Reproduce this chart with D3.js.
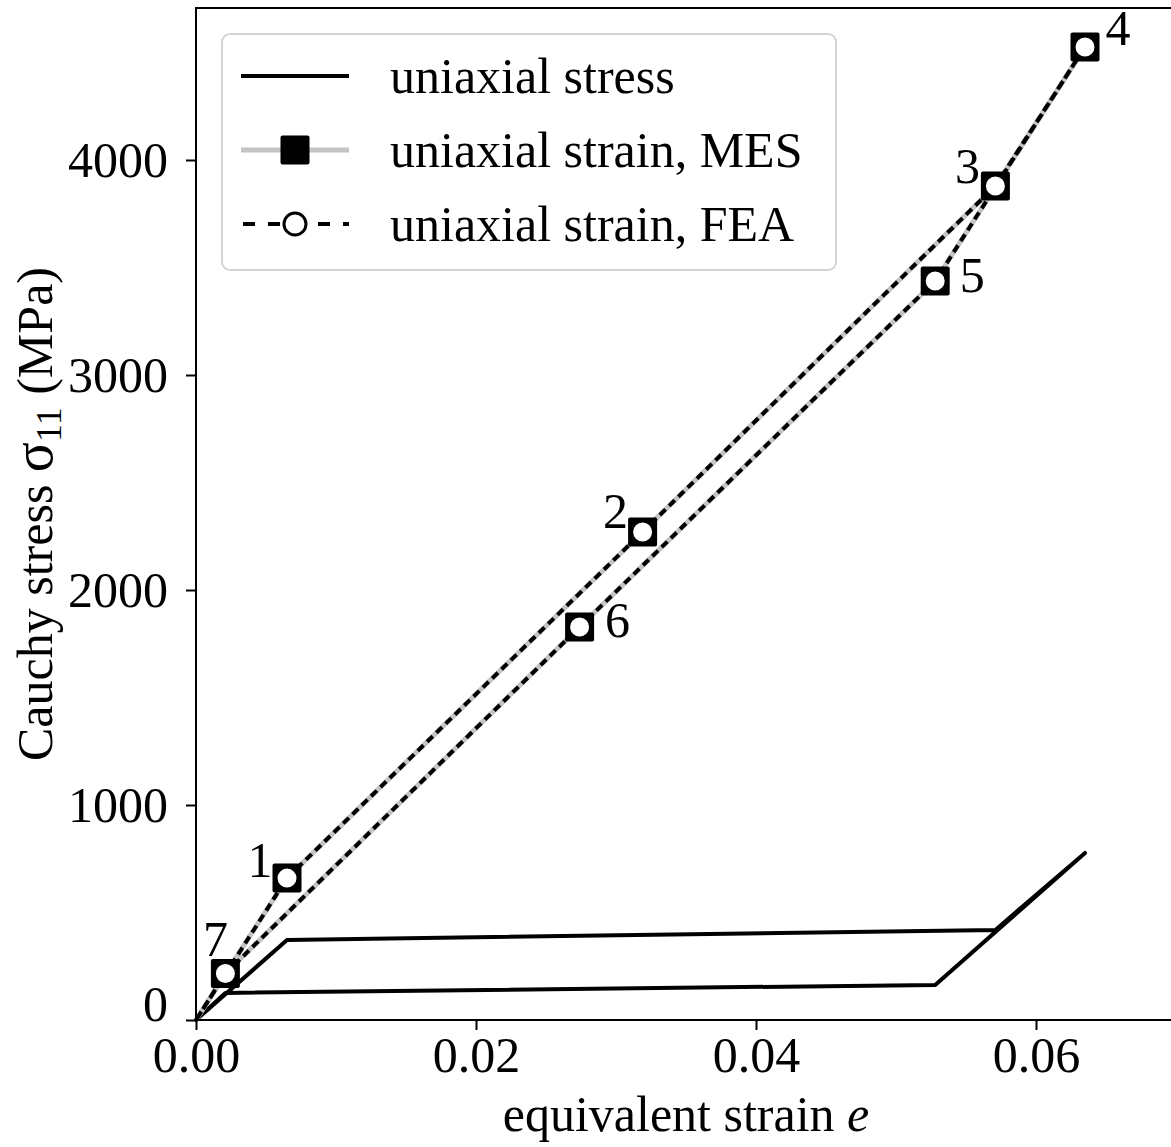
<!DOCTYPE html>
<html>
<head>
<meta charset="utf-8">
<script src="https://cdn.jsdelivr.net/npm/d3@7"></script>
<style>
	body { margin: 0; background: #fff; }
	text { font-family: "Liberation Serif", "Times New Roman", serif; fill: #000; }
</style>
</head>
<body>
<div id="chart"></div>
<script>
//numbered load points (same points for MES and FEA)
var pointLabels = ["1", "2", "3", "4", "5", "6", "7"];
var pointStrain = [0.0065, 0.0319, 0.0571, 0.0635, 0.0528, 0.0274, 0.0021];
var mesPointStress = [660, 2270, 3879, 4526, 3437, 1828, 216];
var feaPointStress = [660, 2270, 3879, 4526, 3437, 1828, 216];

//uniaxial strain loading path
var strainPathStrain = [0, 0.0065, 0.0319, 0.0480, 0.0535, 0.0571, 0.0635, 0.0528, 0.0274, 0.0021, 0];
var mesPathStress = [0, 660, 2270, 3300, 3650, 3879, 4526, 3437, 1828, 216, 0];
var feaPathStress = [0, 660, 2270, 3300, 3650, 3879, 4526, 3437, 1828, 216, 0];

//uniaxial stress path
var stressPathStrain = [0, 0.0065, 0.0571, 0.0635, 0.0528, 0.0021, 0];
var stressPathStress = [0, 372, 419, 777, 163, 126, 0];

//ticks
var xTicks = [0, 0.02, 0.04, 0.06];
var yTicks = [0, 1000, 2000, 3000, 4000];

//legend entries
var legendLabels = ["uniaxial stress", "uniaxial strain, MES", "uniaxial strain, FEA"];

function zip(xs, ys) {
	return xs.map(function(v, i) { return [v, ys[i]]; });
}

function drawChart() {
	var width = 1171;
	var height = 1147;
	var margin = { left: 196, top: 8, right: -5, bottom: 127 };

	var svg = d3.select("#chart").append("svg")
		.attr("width", width)
		.attr("height", height);

	var x = d3.scaleLinear().domain([0, 0.07]).range([margin.left, width - margin.right]);
	var y = d3.scaleLinear().domain([0, 4707]).range([height - margin.bottom, margin.top]);

	var line = d3.line()
		.x(function(d) { return x(d[0]); })
		.y(function(d) { return y(d[1]); });

	//uniaxial stress
	svg.append("path")
		.datum(zip(stressPathStrain, stressPathStress))
		.attr("d", line)
		.attr("fill", "none")
		.attr("stroke", "#000")
		.attr("stroke-width", 4)
		.attr("stroke-linejoin", "round")
		.attr("stroke-linecap", "round");

	//MES: gray line + black squares
	svg.append("path")
		.datum(zip(strainPathStrain, mesPathStress))
		.attr("d", line)
		.attr("fill", "none")
		.attr("stroke", "#c4c4c4")
		.attr("stroke-width", 5);

	var sq = 29;
	svg.selectAll(".mes").data(zip(pointStrain, mesPointStress)).enter()
		.append("rect")
		.attr("x", function(d) { return x(d[0]) - sq / 2; })
		.attr("y", function(d) { return y(d[1]) - sq / 2; })
		.attr("width", sq)
		.attr("height", sq)
		.attr("rx", 2)
		.attr("fill", "#000");

	//FEA: dashed line + open circles
	svg.append("path")
		.datum(zip(strainPathStrain, feaPathStress))
		.attr("d", line)
		.attr("fill", "none")
		.attr("stroke", "#000")
		.attr("stroke-width", 4)
		.attr("stroke-dasharray", "8,5");

	svg.selectAll(".fea").data(zip(pointStrain, feaPointStress)).enter()
		.append("circle")
		.attr("cx", function(d) { return x(d[0]); })
		.attr("cy", function(d) { return y(d[1]); })
		.attr("r", 11)
		.attr("fill", "#fff")
		.attr("stroke", "#000")
		.attr("stroke-width", 3);

	//point numbers, offset from the marker
	var labelOffset = [[-27, -1], [-27, -4], [-28, -3], [33, -2], [37, 11], [38, 10], [-10, -18]];
	svg.selectAll(".num").data(pointLabels).enter()
		.append("text")
		.attr("x", function(d, i) { return x(pointStrain[i]) + labelOffset[i][0]; })
		.attr("y", function(d, i) { return y(mesPointStress[i]) + labelOffset[i][1]; })
		.attr("text-anchor", "middle")
		.attr("font-size", 50)
		.text(function(d) { return d; });

	//axes
	var xAxis = svg.append("g")
		.attr("transform", "translate(0," + y(0) + ")")
		.call(d3.axisBottom(x).tickValues(xTicks).tickFormat(d3.format(".2f")).tickSize(10).tickPadding(6));
	var yAxis = svg.append("g")
		.attr("transform", "translate(" + x(0) + ",0)")
		.call(d3.axisLeft(y).tickValues(yTicks).tickFormat(d3.format("d")).tickSize(10).tickPadding(18));

	[xAxis, yAxis].forEach(function(g) {
		g.select(".domain").remove();
		g.selectAll("line").attr("stroke", "#000").attr("stroke-width", 2);
		g.selectAll("text").attr("font-size", 50).attr("fill", "#000")
			.style("font-family", "'Liberation Serif', serif");
	});
	//nudge the "0" label up so it clears the x tick labels
	yAxis.selectAll("text").filter(function(d) { return d === 0; }).attr("dy", "0em");

	//spines
	svg.append("rect")
		.attr("x", x(0))
		.attr("y", y(4707))
		.attr("width", x(0.07) - x(0))
		.attr("height", y(0) - y(4707))
		.attr("fill", "none")
		.attr("stroke", "#000")
		.attr("stroke-width", 2);

	//axis labels
	var xl = svg.append("text")
		.attr("x", (x(0) + x(0.07)) / 2)
		.attr("y", 1131)
		.attr("text-anchor", "middle")
		.attr("font-size", 50);
	xl.append("tspan").text("equivalent strain ");
	xl.append("tspan").attr("font-style", "italic").text("e");

	var yl = svg.append("text")
		.attr("transform", "translate(52," + ((y(0) + y(4707)) / 2) + ") rotate(-90)")
		.attr("text-anchor", "middle")
		.attr("font-size", 50);
	yl.append("tspan").text("Cauchy stress ");
	yl.append("tspan").attr("font-size", 56).text("σ");
	yl.append("tspan").attr("font-size", 36).attr("dy", 9).text("11");
	yl.append("tspan").attr("dy", -9).text(" (MPa)");

	drawLegend(svg);
}

//legend box with three handles
function drawLegend(svg) {
	var lx = 222, ly = 34, lw = 614, lh = 236;
	var rowH = 74;
	var legend = svg.append("g");

	legend.append("rect")
		.attr("x", lx)
		.attr("y", ly)
		.attr("width", lw)
		.attr("height", lh)
		.attr("rx", 8)
		.attr("fill", "#fff")
		.attr("fill-opacity", 0.8)
		.attr("stroke", "#d4d4d4")
		.attr("stroke-width", 2);

	var hx0 = 241, hx1 = 349, hc = 295;
	var rowY = legendLabels.map(function(d, i) { return ly + 42 + i * rowH; });

	//uniaxial stress
	legend.append("line")
		.attr("x1", hx0).attr("x2", hx1)
		.attr("y1", rowY[0]).attr("y2", rowY[0])
		.attr("stroke", "#000").attr("stroke-width", 4);

	//MES
	legend.append("line")
		.attr("x1", hx0).attr("x2", hx1)
		.attr("y1", rowY[1]).attr("y2", rowY[1])
		.attr("stroke", "#c4c4c4").attr("stroke-width", 5);
	legend.append("rect")
		.attr("x", hc - 14.5).attr("y", rowY[1] - 14.5)
		.attr("width", 29).attr("height", 29).attr("rx", 2)
		.attr("fill", "#000");

	//FEA
	legend.append("line")
		.attr("x1", hx0 + 2).attr("x2", hx1)
		.attr("y1", rowY[2]).attr("y2", rowY[2])
		.attr("stroke", "#000").attr("stroke-width", 4)
		.attr("stroke-dasharray", "12,13");
	legend.append("circle")
		.attr("cx", hc).attr("cy", rowY[2]).attr("r", 11)
		.attr("fill", "#fff").attr("stroke", "#000").attr("stroke-width", 3);

	legend.selectAll(".lab").data(legendLabels).enter()
		.append("text")
		.attr("x", 390)
		.attr("y", function(d, i) { return rowY[i] + 17; })
		.attr("font-size", 50)
		.text(function(d) { return d; });
}

drawChart();
</script>
</body>
</html>
